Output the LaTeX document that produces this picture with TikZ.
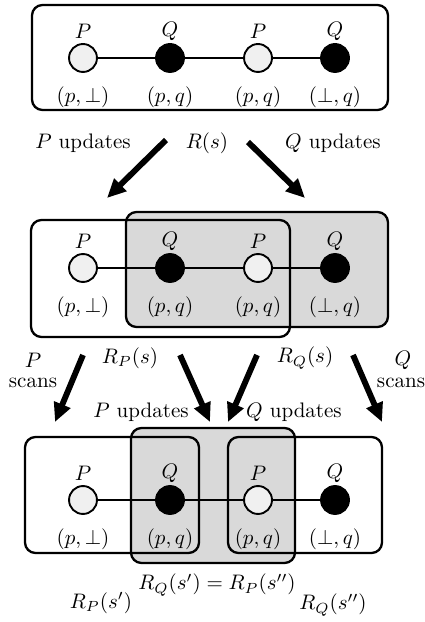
\documentclass[tikz,border=0pt]{standalone}
\usetikzlibrary{arrows.meta}
\newcommand\strow[2]{%
  \node[pnode] (#1a) at (83,#2) {};
  \node[qnode] (#1b) at (170,#2) {};
  \node[pnode] (#1c) at (258,#2) {};
  \node[qnode] (#1d) at (335,#2) {};
  \draw[conn] (#1a) -- (#1b) -- (#1c) -- (#1d);
  \node (#1la) at (83,{#2-27}) {$P$};
  \node (#1lb) at (170,{#2-27}) {$Q$};
  \node (#1lc) at (258,{#2-27}) {$P$};
  \node (#1ld) at (335,{#2-27}) {$Q$};
  \node (#1ta) at (83,{#2+39}) {$(p,\perp)$};
  \node (#1tb) at (170,{#2+39}) {$(p,q)$};
  \node (#1tc) at (258,{#2+39}) {$(p,q)$};
  \node (#1td) at (335,{#2+39}) {$(\perp,q)$};
}
\begin{document}
\begin{tikzpicture}[x=0.476pt,y=-0.476pt,
  box/.style={draw,line width=1.1pt,rounded corners=5pt},
  gbox/.style={fill=gray!30,draw=none,rounded corners=5pt},
  pnode/.style={circle,draw,line width=0.9pt,fill=gray!12,minimum size=13.3pt,inner sep=0pt},
  qnode/.style={circle,draw,line width=0.9pt,fill=black,minimum size=13.3pt,inner sep=0pt},
  bigarrow/.style={line width=2.8pt,-{Triangle[length=9pt,width=8pt]}},
  conn/.style={line width=0.9pt},
  lbl/.style={inner sep=1pt}]
\useasboundingbox (0,0) rectangle (424,622);
% ---- top row
\draw[box] (32,5) rectangle (388,110);
\strow{t}{58}
% ---- arrows top
\coordinate (a1s) at (166,140); \coordinate (a1e) at (107,198);
\coordinate (a2s) at (248,142); \coordinate (a2e) at (305,198);
\draw[bigarrow] (a1s) -- (a1e);
\draw[bigarrow] (a2s) -- (a2e);
\node[lbl] (pu1) at (83,143) {$P$ updates};
\node[lbl] (rs) at (207,143) {$R(s)$};
\node[lbl] (qu1) at (333,143) {$Q$ updates};
% ---- middle row
\fill[gbox] (126,212) rectangle (388,327);
\draw[box] (126,212) rectangle (388,327);
\draw[box] (31,220) rectangle (290,337);
\strow{m}{268}
% ---- arrows middle
\coordinate (b1s) at (83,355);  \coordinate (b1e) at (55,422);
\coordinate (b2s) at (180,355); \coordinate (b2e) at (210,422);
\coordinate (b3s) at (257,355); \coordinate (b3e) at (228,422);
\coordinate (b4s) at (353,355); \coordinate (b4e) at (382,422);
\draw[bigarrow] (b1s) -- (b1e);
\draw[bigarrow] (b2s) -- (b2e);
\draw[bigarrow] (b3s) -- (b3e);
\draw[bigarrow] (b4s) -- (b4e);
\node[lbl] (ps) at (33,360) {$P$};
\node[lbl] (psc) at (33,383) {scans};
\node[lbl] (qs) at (403,360) {$Q$};
\node[lbl] (qsc) at (401,383) {scans};
\node[lbl] (rps) at (130,358) {$R_P(s)$};
\node[lbl] (rqs) at (305,358) {$R_Q(s)$};
\node[lbl] (pu2) at (141,412) {$P$ updates};
\node[lbl] (qu2) at (294,412) {$Q$ updates};
% ---- bottom row
\fill[gbox] (131,428) rectangle (295,563);
\draw[box] (131,428) rectangle (295,563);
\draw[box] (25,437) rectangle (199,553);
\draw[box] (228,437) rectangle (382,553);
\strow{b}{500}
\node[lbl] (rqp) at (217,585) {$R_Q(s')=R_P(s'')$};
\node[lbl] (rpsp) at (101,603) {$R_P(s')$};
\node[lbl] (rqspp) at (333,605) {$R_Q(s'')$};
\end{tikzpicture}
\end{document}
